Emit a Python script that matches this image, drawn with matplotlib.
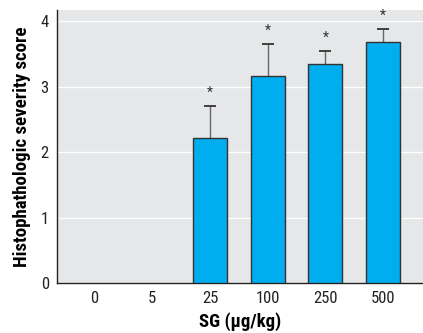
import matplotlib
matplotlib.use("Agg")
import matplotlib.pyplot as plt
from matplotlib import font_manager

doses = ["0", "5", "25", "100", "250", "500"]
scores = [0, 0, 2.22, 3.16, 3.34, 3.68]
errors = [0, 0, 0.48, 0.49, 0.20, 0.20]
significant = [False, False, True, True, True, True]

names = {f.name for f in font_manager.fontManager.ttflist}
family = []
for cand in ["Liberation Sans Narrow", "DejaVu Sans Condensed", "Roboto Condensed"]:
    if cand in names:
        family.append(cand)
        break
plt.rcParams["font.family"] = family + ["DejaVu Sans"]

fig = plt.figure(figsize=(4.23, 3.33), dpi=100)
ax = fig.add_axes([0.135, 0.15, 0.865, 0.82])
ax.set_facecolor("#e6e7e8")

x = list(range(len(doses)))
heights = [s if s > 0 else float("nan") for s in scores]
ax.bar(x, heights, width=0.59, color="#00aeef", edgecolor="#333333", linewidth=1.0, zorder=3)
for xi, s, e, sig in zip(x, scores, errors, significant):
    if s > 0:
        ax.vlines(xi, s, s + e, color="#666666", linewidth=1.0, zorder=2)
        ax.plot([xi], [s + e], marker="_", markersize=8, markeredgewidth=1.3,
                color="#333333", zorder=2)
    if sig:
        ax.text(xi, s + e + 0.1, "*", ha="center", va="bottom", fontsize=10, color="#333333")

ax.set_xlim(-0.65, 5.69)
ax.set_ylim(0, 4.17)
ax.set_yticks([0, 1, 2, 3, 4])
ax.set_xticks(x)
ax.set_xticklabels(doses)
ax.yaxis.grid(True, color="white", linewidth=1.0, zorder=0)
ax.set_axisbelow(True)
ax.tick_params(length=0, labelsize=12, pad=6, colors="#222222")
for side in ["top", "right"]:
    ax.spines[side].set_visible(False)
for side in ["left", "bottom"]:
    ax.spines[side].set_color("#222222")
    ax.spines[side].set_linewidth(1.0)

ax.set_xlabel("SG (\u03bcg/kg)", fontsize=13.5, fontweight="bold", labelpad=4)
ax.set_ylabel("Histophathologic severity score", fontsize=13.6, fontweight="bold", labelpad=7)

fig.savefig("out.png", dpi=100)
